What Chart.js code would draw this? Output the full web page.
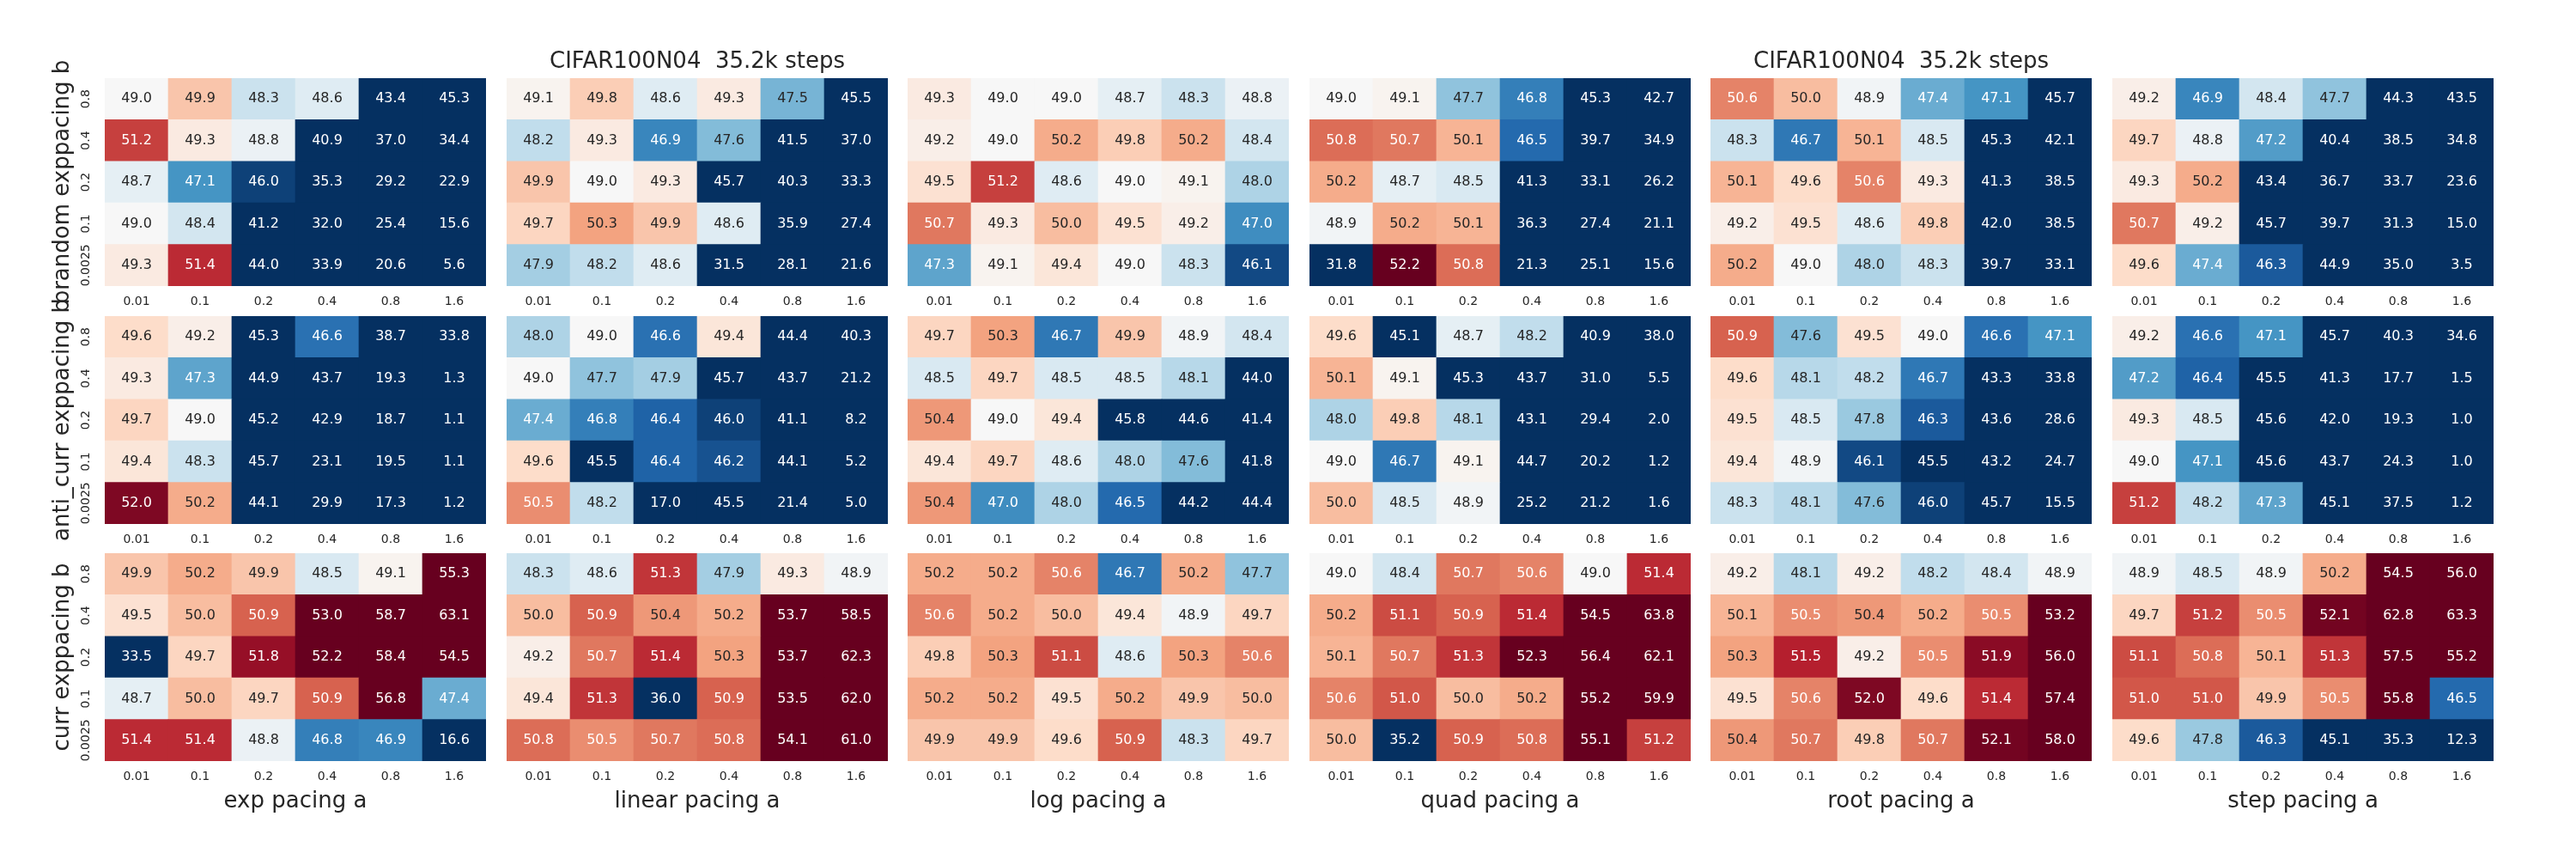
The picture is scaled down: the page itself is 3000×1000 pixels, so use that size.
<!DOCTYPE html>
<html>
<head>
<meta charset="utf-8">
<title>CIFAR100N04 pacing heatmaps</title>
<script src="https://cdn.jsdelivr.net/npm/chart.js@4.4.1/dist/chart.umd.min.js"></script>
<style>
  html, body { margin: 0; padding: 0; background: #fff; }
  #fig { position: relative; width: 3000px; height: 1000px; overflow: hidden; }
  .panel { position: absolute; }
</style>
</head>
<body>
<div id="fig"></div>
<script>
const aTicks = ['0.01', '0.1', '0.2', '0.4', '0.8', '1.6'];
const bTicks = ['0.8', '0.4', '0.2', '0.1', '0.0025'];   // rows, top to bottom
const pacings = ['exp', 'linear', 'log', 'quad', 'root', 'step'];
const groups = ['brandom', 'anti_curr', 'curr'];
const figTitle = 'CIFAR100N04  35.2k steps';

// brandom exppacing b
const brandomExp    = [[49.0,49.9,48.3,48.6,43.4,45.3],[51.2,49.3,48.8,40.9,37.0,34.4],[48.7,47.1,46.0,35.3,29.2,22.9],[49.0,48.4,41.2,32.0,25.4,15.6],[49.3,51.4,44.0,33.9,20.6,5.6]];
const brandomLinear = [[49.1,49.8,48.6,49.3,47.5,45.5],[48.2,49.3,46.9,47.6,41.5,37.0],[49.9,49.0,49.3,45.7,40.3,33.3],[49.7,50.3,49.9,48.6,35.9,27.4],[47.9,48.2,48.6,31.5,28.1,21.6]];
const brandomLog    = [[49.3,49.0,49.0,48.7,48.3,48.8],[49.2,49.0,50.2,49.8,50.2,48.4],[49.5,51.2,48.6,49.0,49.1,48.0],[50.7,49.3,50.0,49.5,49.2,47.0],[47.3,49.1,49.4,49.0,48.3,46.1]];
const brandomQuad   = [[49.0,49.1,47.7,46.8,45.3,42.7],[50.8,50.7,50.1,46.5,39.7,34.9],[50.2,48.7,48.5,41.3,33.1,26.2],[48.9,50.2,50.1,36.3,27.4,21.1],[31.8,52.2,50.8,21.3,25.1,15.6]];
const brandomRoot   = [[50.6,50.0,48.9,47.4,47.1,45.7],[48.3,46.7,50.1,48.5,45.3,42.1],[50.1,49.6,50.6,49.3,41.3,38.5],[49.2,49.5,48.6,49.8,42.0,38.5],[50.2,49.0,48.0,48.3,39.7,33.1]];
const brandomStep   = [[49.2,46.9,48.4,47.7,44.3,43.5],[49.7,48.8,47.2,40.4,38.5,34.8],[49.3,50.2,43.4,36.7,33.7,23.6],[50.7,49.2,45.7,39.7,31.3,15.0],[49.6,47.4,46.3,44.9,35.0,3.5]];

// anti_curr exppacing b
const antiExp    = [[49.6,49.2,45.3,46.6,38.7,33.8],[49.3,47.3,44.9,43.7,19.3,1.3],[49.7,49.0,45.2,42.9,18.7,1.1],[49.4,48.3,45.7,23.1,19.5,1.1],[52.0,50.2,44.1,29.9,17.3,1.2]];
const antiLinear = [[48.0,49.0,46.6,49.4,44.4,40.3],[49.0,47.7,47.9,45.7,43.7,21.2],[47.4,46.8,46.4,46.0,41.1,8.2],[49.6,45.5,46.4,46.2,44.1,5.2],[50.5,48.2,17.0,45.5,21.4,5.0]];
const antiLog    = [[49.7,50.3,46.7,49.9,48.9,48.4],[48.5,49.7,48.5,48.5,48.1,44.0],[50.4,49.0,49.4,45.8,44.6,41.4],[49.4,49.7,48.6,48.0,47.6,41.8],[50.4,47.0,48.0,46.5,44.2,44.4]];
const antiQuad   = [[49.6,45.1,48.7,48.2,40.9,38.0],[50.1,49.1,45.3,43.7,31.0,5.5],[48.0,49.8,48.1,43.1,29.4,2.0],[49.0,46.7,49.1,44.7,20.2,1.2],[50.0,48.5,48.9,25.2,21.2,1.6]];
const antiRoot   = [[50.9,47.6,49.5,49.0,46.6,47.1],[49.6,48.1,48.2,46.7,43.3,33.8],[49.5,48.5,47.8,46.3,43.6,28.6],[49.4,48.9,46.1,45.5,43.2,24.7],[48.3,48.1,47.6,46.0,45.7,15.5]];
const antiStep   = [[49.2,46.6,47.1,45.7,40.3,34.6],[47.2,46.4,45.5,41.3,17.7,1.5],[49.3,48.5,45.6,42.0,19.3,1.0],[49.0,47.1,45.6,43.7,24.3,1.0],[51.2,48.2,47.3,45.1,37.5,1.2]];

// curr exppacing b
const currExp    = [[49.9,50.2,49.9,48.5,49.1,55.3],[49.5,50.0,50.9,53.0,58.7,63.1],[33.5,49.7,51.8,52.2,58.4,54.5],[48.7,50.0,49.7,50.9,56.8,47.4],[51.4,51.4,48.8,46.8,46.9,16.6]];
const currLinear = [[48.3,48.6,51.3,47.9,49.3,48.9],[50.0,50.9,50.4,50.2,53.7,58.5],[49.2,50.7,51.4,50.3,53.7,62.3],[49.4,51.3,36.0,50.9,53.5,62.0],[50.8,50.5,50.7,50.8,54.1,61.0]];
const currLog    = [[50.2,50.2,50.6,46.7,50.2,47.7],[50.6,50.2,50.0,49.4,48.9,49.7],[49.8,50.3,51.1,48.6,50.3,50.6],[50.2,50.2,49.5,50.2,49.9,50.0],[49.9,49.9,49.6,50.9,48.3,49.7]];
const currQuad   = [[49.0,48.4,50.7,50.6,49.0,51.4],[50.2,51.1,50.9,51.4,54.5,63.8],[50.1,50.7,51.3,52.3,56.4,62.1],[50.6,51.0,50.0,50.2,55.2,59.9],[50.0,35.2,50.9,50.8,55.1,51.2]];
const currRoot   = [[49.2,48.1,49.2,48.2,48.4,48.9],[50.1,50.5,50.4,50.2,50.5,53.2],[50.3,51.5,49.2,50.5,51.9,56.0],[49.5,50.6,52.0,49.6,51.4,57.4],[50.4,50.7,49.8,50.7,52.1,58.0]];
const currStep   = [[48.9,48.5,48.9,50.2,54.5,56.0],[49.7,51.2,50.5,52.1,62.8,63.3],[51.1,50.8,50.1,51.3,57.5,55.2],[51.0,51.0,49.9,50.5,55.8,46.5],[49.6,47.8,46.3,45.1,35.3,12.3]];

const panels = [
  [brandomExp, brandomLinear, brandomLog, brandomQuad, brandomRoot, brandomStep],
  [antiExp, antiLinear, antiLog, antiQuad, antiRoot, antiStep],
  [currExp, currLinear, currLog, currQuad, currRoot, currStep]
];

// colour scale (RdBu_r, centred near 49)
const VMIN = 45.8, VMAX = 52.2;
const rdbu = ['#053061','#2166ac','#4393c3','#92c5de','#d1e5f0','#f7f7f7',
              '#fddbc7','#f4a582','#d6604d','#b2182b','#67001f'];
const ink = '#262626';
const family = '"DejaVu Sans", sans-serif';

function hexRgb(h) {
  return [1, 3, 5].map(i => parseInt(h.slice(i, i + 2), 16) / 255);
}
const stops = rdbu.map(hexRgb);

function rgbAt(v) {
  let t = (v - VMIN) / (VMAX - VMIN);
  t = Math.max(0, Math.min(1, t)) * (stops.length - 1);
  const i = Math.min(Math.floor(t), stops.length - 2);
  const f = t - i;
  return stops[i].map((c, k) => c + (stops[i + 1][k] - c) * f);
}

function cmap(v) {
  const [r, g, b] = rgbAt(v).map(c => Math.round(c * 255));
  return `rgb(${r},${g},${b})`;
}

// same rule seaborn uses for annotation colour
function textColor(v) {
  const lin = rgbAt(v).map(c => c <= 0.03928 ? c / 12.92 : Math.pow((c + 0.055) / 1.055, 2.4));
  const lum = 0.2126 * lin[0] + 0.7152 * lin[1] + 0.0722 * lin[2];
  return lum > 0.408 ? ink : '#ffffff';
}

const annotate = {
  id: 'annotate',
  afterDatasetsDraw(chart) {
    const ctx = chart.ctx;
    ctx.save();
    ctx.font = '16px ' + family;
    ctx.textAlign = 'center';
    ctx.textBaseline = 'middle';
    chart.data.datasets.forEach((ds, i) => {
      chart.getDatasetMeta(i).data.forEach((bar, j) => {
        const v = ds.values[j];
        ctx.fillStyle = textColor(v);
        ctx.fillText(v.toFixed(1), bar.x, (bar.y + bar.base) / 2);
      });
    });
    ctx.restore();
  }
};

// panel geometry
const heatLeft = [122, 590, 1057, 1525, 1992, 2460];
const heatTop = [91, 368, 644];
const W = 444, H = 242;
const fig = document.getElementById('fig');

function makePanel(r, c) {
  const values = panels[r][c];
  const yW = c === 0 ? 90 : 0;
  const hasTitle = r === 0 && (c === 1 || c === 4);
  const padTop = c === 0 ? 40 : 0;
  const topOff = padTop + (hasTitle ? 34 : 0);
  const xH = r === 2 ? 80 : 36;

  const box = document.createElement('div');
  box.className = 'panel';
  box.style.left = (heatLeft[c] - yW) + 'px';
  box.style.top = (heatTop[r] - topOff) + 'px';
  box.style.width = (W + yW) + 'px';
  box.style.height = (topOff + H + xH) + 'px';
  const canvas = document.createElement('canvas');
  box.appendChild(canvas);
  fig.appendChild(box);

  // one stacked dataset per b row, bottom row first
  const datasets = [];
  for (let k = bTicks.length - 1; k >= 0; k--) {
    const row = values[k];
    datasets.push({
      data: row.map(() => 1),
      values: row,
      backgroundColor: row.map(cmap),
      borderWidth: 0,
      barPercentage: 1,
      categoryPercentage: 1
    });
  }

  new Chart(canvas, {
    type: 'bar',
    data: { labels: aTicks, datasets: datasets },
    options: {
      responsive: true,
      maintainAspectRatio: false,
      animation: false,
      events: [],
      layout: { padding: { top: padTop, left: 0, right: 0, bottom: 0 } },
      plugins: {
        legend: { display: false },
        tooltip: { enabled: false },
        title: {
          display: hasTitle,
          text: figTitle,
          color: ink,
          font: { size: 26, family: family, weight: 'normal' },
          padding: { top: 0, bottom: 2.8 }
        }
      },
      scales: {
        x: {
          stacked: true,
          grid: { display: false, drawTicks: false, tickLength: 0 },
          border: { display: false },
          ticks: { color: ink, font: { size: 14, family: family }, padding: 10, maxRotation: 0, autoSkip: false },
          title: {
            display: r === 2,
            text: pacings[c] + ' pacing a',
            color: ink,
            font: { size: 26, family: family },
            padding: { top: 0, bottom: 17.4 }
          },
          afterFit: s => { s.height = xH; }
        },
        y: {
          display: c === 0,
          stacked: true,
          min: 0,
          max: bTicks.length,
          grid: { display: false, drawTicks: false, tickLength: 0 },
          border: { display: false },
          afterBuildTicks: s => { s.ticks = bTicks.map((_, i) => ({ value: i + 0.5 })); },
          ticks: {
            color: ink,
            font: { size: 14, family: family },
            padding: -2.5,
            minRotation: 90,
            maxRotation: 90,
            crossAlign: 'center',
            callback: v => bTicks[bTicks.length - 1 - Math.floor(v)]
          },
          title: {
            display: true,
            text: groups[r] + ' exppacing b',
            color: ink,
            font: { size: 26, family: family },
            padding: { top: 25.4, bottom: 0 }
          },
          afterFit: s => { s.width = yW; }
        }
      }
    },
    plugins: [annotate]
  });
}

for (let r = 0; r < groups.length; r++) {
  for (let c = 0; c < pacings.length; c++) {
    makePanel(r, c);
  }
}
</script>
</body>
</html>
